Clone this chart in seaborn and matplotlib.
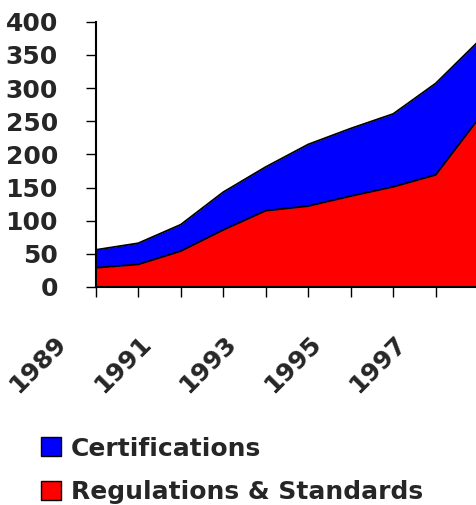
import matplotlib
matplotlib.use("Agg")
import matplotlib.pyplot as plt
import matplotlib.transforms as mtransforms
from matplotlib.patches import Patch
import pandas as pd
import seaborn as sns

# Yearly counts
years = [1989, 1990, 1991, 1992, 1993, 1994, 1995, 1996, 1997, 1998]
regulations = [29, 34, 54, 86, 115, 122, 137, 151, 169, 253]
certifications = [27, 32, 40, 57, 66, 93, 102, 110, 138, 117]
year_labels = ["1989", "", "1991", "", "1993", "", "1995", "", "1997", ""]
y_ticks = [0, 50, 100, 150, 200, 250, 300, 350, 400]

series_names = ["Certifications", "Regulations & Standards"]
series_colors = ["#0000FF", "#FF0000"]

df = pd.DataFrame({"year": years,
                   "regs": regulations,
                   "certs": certifications})
df["total"] = df["regs"] + df["certs"]

sns.set_style("white")
plt.rcParams["font.family"] = ["DejaVu Sans"]
plt.rcParams["font.weight"] = "bold"

W, H = 476, 505
fig = plt.figure(figsize=(W / 100, H / 100), dpi=100)
ax = fig.add_axes([95.7 / W, 1 - 287 / H, (478.2 - 95.7) / W, (287 - 21.7) / H])

# stacked areas with black outlines
ax.fill_between(df["year"], 0, df["regs"], color=series_colors[1], lw=0)
ax.fill_between(df["year"], df["regs"], df["total"], color=series_colors[0], lw=0)
sns.lineplot(data=df, x="year", y="regs", color="black", lw=1.3, ax=ax)
sns.lineplot(data=df, x="year", y="total", color="black", lw=1.3, ax=ax)

ax.set_xlim(years[0], years[-1])
ax.set_ylim(0, 400)
ax.set_xlabel("")
ax.set_ylabel("")

for side in ["top", "right"]:
    ax.spines[side].set_visible(False)
for side in ["left", "bottom"]:
    ax.spines[side].set_color("black")
    ax.spines[side].set_linewidth(1.5)

ax.set_yticks(y_ticks)
ax.set_yticklabels([str(v) for v in y_ticks], fontsize=18, fontweight="bold")
ax.set_xticks(years)
ax.set_xticklabels(year_labels, fontsize=18, fontweight="bold",
                   rotation=45, ha="right", va="top")
ax.tick_params(axis="y", direction="out", length=7.2, width=1.0,
               color="black", pad=20, left=True)
ax.tick_params(axis="x", direction="out", length=7.2, width=1.0,
               color="black", pad=25, bottom=True)

# nudge the slanted year labels to the left of their ticks
shift = mtransforms.ScaledTranslation(-25 / 100, 0, fig.dpi_scale_trans)
for lab in ax.get_xticklabels():
    lab.set_transform(lab.get_transform() + shift)

handles = [Patch(facecolor=c, edgecolor="black", lw=1.0) for c in series_colors]
fig.legend(handles, series_names, loc="upper left",
           bbox_to_anchor=(41 / W, 1 - 436.5 / H), frameon=False,
           prop={"size": 18, "weight": "bold"},
           handlelength=0.8, handleheight=0.8, handletextpad=0.4,
           labelspacing=0.78, borderpad=0, borderaxespad=0)

fig.savefig("out.png", dpi=100)
